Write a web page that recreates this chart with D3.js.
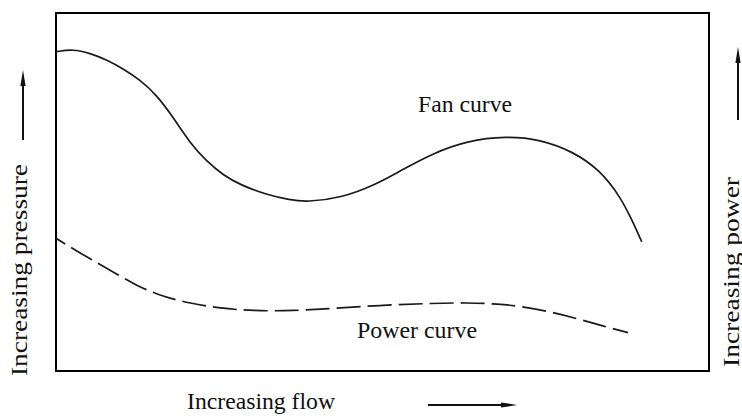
<!DOCTYPE html>
<html lang="en">
<head>
  <meta charset="UTF-8">
  <title>Fan curve and power curve</title>
  <style>
    body { margin: 0; background: #fff; }
    svg { display: block; }
    .label { font-family: "Liberation Serif", "DejaVu Serif", serif; fill: #111; }
  </style>
</head>
<body>
  <svg id="chart"></svg>
  <script src="https://d3js.org/d3.v7.min.js"></script>
  <script>
    // values, relative units 0-100 on both axes
    const fanFlow     = [0, 2.6, 5.2, 7.8, 10.3, 12.9, 15.4, 17.9, 20.5, 23.1, 25.6, 28.2, 32.3, 35.8, 38.4, 43.6, 48.9, 52.7, 57.7, 62.9, 69.0, 74.1, 79.2, 83.3, 86.4, 88.2, 89.7];
    const fanPressure = [89.2, 89.9, 88.8, 86.9, 84.4, 81.3, 77.1, 71.0, 63.7, 58.5, 54.7, 52.0, 49.2, 47.8, 47.2, 48.3, 52.0, 55.9, 60.8, 64.3, 65.6, 64.7, 61.3, 56.1, 48.7, 42.2, 36.1];
    const powerFlow   = [0, 3.7, 7.8, 12.4, 16.4, 20.5, 25.1, 30.2, 36.3, 42.4, 50.1, 57.7, 62.9, 68.0, 70.6, 75.7, 80.7, 83.3, 87.6];
    const powerValues = [37.1, 32.9, 28.7, 23.7, 20.8, 18.9, 17.5, 16.8, 16.8, 17.5, 18.4, 18.9, 19.1, 18.7, 18.2, 16.6, 14.2, 12.8, 10.7];

    const width = 742, height = 419;
    const box = { left: 56, top: 13, right: 709, bottom: 371 };

    const svg = d3.select("#chart")
      .attr("width", width)
      .attr("height", height);

    const x = d3.scaleLinear().domain([0, 100]).range([box.left, box.right]);
    const y = d3.scaleLinear().domain([0, 100]).range([box.bottom, box.top]);

    const line = d3.line()
      .x(d => x(d[0]))
      .y(d => y(d[1]))
      .curve(d3.curveBasis);

    // frame
    svg.append("rect")
      .attr("x", box.left)
      .attr("y", box.top)
      .attr("width", box.right - box.left)
      .attr("height", box.bottom - box.top)
      .attr("fill", "none")
      .attr("stroke", "#000")
      .attr("stroke-width", 2);

    svg.append("path")
      .datum(d3.zip(fanFlow, fanPressure))
      .attr("d", line)
      .attr("fill", "none")
      .attr("stroke", "#1a1a1a")
      .attr("stroke-width", 1.7);

    svg.append("path")
      .datum(d3.zip(powerFlow, powerValues))
      .attr("d", line)
      .attr("fill", "none")
      .attr("stroke", "#1a1a1a")
      .attr("stroke-width", 1.7)
      .attr("stroke-dasharray", "24,7")
      .attr("stroke-dashoffset", -18);

    function label(txt, tx, ty, rot, len) {
      const t = svg.append("text").attr("class", "label")
        .attr("font-size", 24)
        .attr("transform", `translate(${tx},${ty})` + (rot ? ` rotate(${rot})` : ""))
        .text(txt);
      if (len) t.attr("textLength", len).attr("lengthAdjust", "spacingAndGlyphs");
      return t;
    }

    label("Fan curve", 418, 112, 0, 94);
    label("Power curve", 357, 338, 0, 120);
    label("Increasing flow", 187, 409, 0, 148);
    label("Increasing pressure", 27, 376, -90, 212);
    label("Increasing power", 739, 367, -90, 190);

    // direction arrows
    function arrow(x1, y1, x2, y2) {
      const ang = Math.atan2(y2 - y1, x2 - x1);
      const len = 16, half = 2.6;
      const bx = x2 - len * Math.cos(ang), by = y2 - len * Math.sin(ang);
      svg.append("line")
        .attr("x1", x1).attr("y1", y1)
        .attr("x2", bx).attr("y2", by)
        .attr("stroke", "#111")
        .attr("stroke-width", 2);
      svg.append("path")
        .attr("d", d3.line()([
          [x2, y2],
          [bx + half * Math.sin(ang), by - half * Math.cos(ang)],
          [bx - half * Math.sin(ang), by + half * Math.cos(ang)]
        ]) + "Z")
        .attr("fill", "#111");
    }

    arrow(23, 140, 23, 70);
    arrow(738, 120, 738, 47);
    arrow(428, 405, 517, 405);
  </script>
</body>
</html>
